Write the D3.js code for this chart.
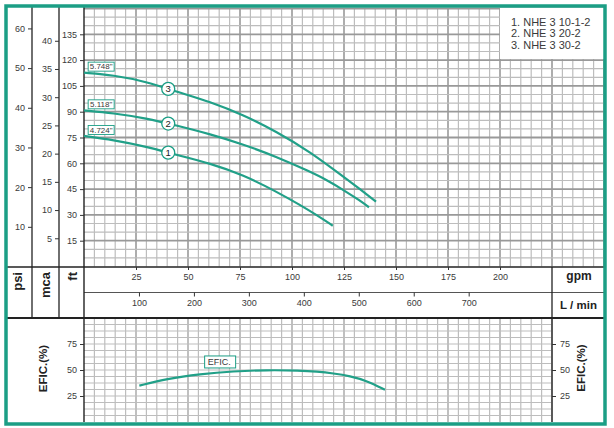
<!DOCTYPE html>
<html><head><meta charset="utf-8">
<script src="https://cdn.jsdelivr.net/npm/d3@7"></script>
<style>body{margin:0;background:#fff}svg{display:block;font-family:"Liberation Sans",Arial,sans-serif}</style>
</head><body><svg id="c" width="614" height="428"></svg>
<script>
// ---- data ----
const models = ["1. NHE 3 10-1-2", "2. NHE 3 20-2", "3. NHE 3 30-2"];
const impellers = ['4.724"', '5.118"', '5.748"'];
const markerNums = ["1", "2", "3"];
const flow1 = [0, 14, 30, 44.6, 60.6, 76.6, 92.6, 103.8, 111.9, 119.6];
const head1 = [75.9, 73.6, 69.7, 64.8, 60.0, 53.2, 43.5, 35.8, 29.9, 23.7];
const flow2 = [0, 14, 30, 44.6, 60.6, 76.6, 92.6, 108.7, 116.7, 124.7, 132.7, 137];
const head2 = [90.8, 89.2, 86.2, 81.9, 77.0, 71.0, 63.8, 55.1, 50.3, 44.5, 38.3, 34.4];
const flow3 = [0, 14, 30, 44.6, 60.6, 76.6, 92.6, 108.7, 124.7, 132.7, 140.4];
const head3 = [112.7, 111.3, 107.5, 101.6, 95.8, 88.1, 78.4, 66.7, 52.2, 44.9, 37.7];
const effFlow = [26.6, 39.8, 55.8, 71.8, 87.8, 103.8, 111.9, 119.9, 127.9, 135.9, 144.7];
const effVal = [35, 41.5, 46.0, 48.8, 50, 49.5, 48.5, 46.8, 44.2, 39.7, 31];
const markerFlow = 40.5;
const gpmTicks = [25, 50, 75, 100, 125, 150, 175, 200];
const lminTicks = [100, 200, 300, 400, 500, 600, 700];
const ftTicks = [15, 30, 45, 60, 75, 90, 105, 120, 135];
const mcaTicks = [5, 10, 15, 20, 25, 30, 35, 40];
const psiTicks = [10, 20, 30, 40, 50, 60];
const effTicks = [25, 50, 75];

// ---- drawing ----
const teal = "#1b9e85", curveCol = "#21a088", dark = "#222", txt = "#3a3a3a";
const svg = d3.select("#c");
const x = d3.scaleLinear().domain([0, 250]).range([84, 604]);
const xL = d3.scaleLinear().domain([0, 250 * 3.785]).range([84, 604]);
const y = d3.scaleLinear().domain([0, 150]).range([266.5, 8.5]);
const yM = d3.scaleLinear().domain([0, 150 / 3.281]).range([266.5, 8.5]);
const yP = d3.scaleLinear().domain([0, 150 / 2.307]).range([266.5, 8.5]);
const yE = d3.scaleLinear().domain([0, 100]).range([422, 318]);

svg.append("rect").attr("width", 614).attr("height", 428).attr("fill", "#fff");

// grid (top)
const gt = svg.append("g");
gt.selectAll("line.v").data(d3.range(5, 251, 5)).join("line")
  .attr("x1", d => x(d)).attr("x2", d => x(d)).attr("y1", 8).attr("y2", 266.5)
  .attr("stroke", d => d % 25 === 0 ? "#999" : "#bdbdbd")
  .attr("stroke-width", d => d % 25 === 0 ? 1.6 : 1.2);
gt.selectAll("line.h").data(d3.range(5, 151, 5)).join("line")
  .attr("x1", 84).attr("x2", 604).attr("y1", d => y(d)).attr("y2", d => y(d))
  .attr("stroke", d => d % 15 === 0 ? "#999" : "#bdbdbd")
  .attr("stroke-width", d => d % 15 === 0 ? 1.8 : 1.2);

// grid (efficiency)
const ge = svg.append("g");
ge.selectAll("line.v").data(d3.range(5, 226, 5)).join("line")
  .attr("x1", d => x(d)).attr("x2", d => x(d)).attr("y1", 318).attr("y2", 422)
  .attr("stroke", d => d % 25 === 0 ? "#a5a5a5" : "#bdbdbd")
  .attr("stroke-width", d => d % 25 === 0 ? 1.4 : 1.2);
ge.selectAll("line.h").data(d3.range(6.25, 100, 6.25)).join("line")
  .attr("x1", 84).attr("x2", 552).attr("y1", d => yE(d)).attr("y2", d => yE(d))
  .attr("stroke", "#bdbdbd").attr("stroke-width", 1.2);

// legend box
svg.append("rect").attr("x", 500).attr("y", 8).attr("width", 104).attr("height", 51).attr("fill", "#fff");
svg.selectAll("text.leg").data(models).join("text")
  .attr("x", 511).attr("y", (d, i) => 26 + i * 11.3)
  .attr("font-size", 11).attr("fill", txt).text(d => d);

// structure lines
const lines = [
  [6, 267, 605, 267, dark, 1.6], [6, 318, 605, 318, dark, 1.8],
  [84, 292.5, 605, 292.5, "#555", 1],
  [32, 6, 32, 318, dark, 1.3], [59, 6, 59, 318, dark, 1.3],
  [84, 6, 84, 422, dark, 1.4], [552, 267, 552, 422, dark, 1.3]
];
svg.selectAll("line.s").data(lines).join("line")
  .attr("x1", d => d[0]).attr("y1", d => d[1]).attr("x2", d => d[2]).attr("y2", d => d[3])
  .attr("stroke", d => d[4]).attr("stroke-width", d => d[5]);

function styleAxis(g) {
  g.select(".domain").remove();
  g.selectAll(".tick line").attr("stroke", "#333").attr("stroke-width", 1);
  g.selectAll(".tick text").attr("fill", txt).attr("font-size", 9)
    .attr("font-family", '"Liberation Sans",Arial,sans-serif');
}
svg.append("g").attr("transform", "translate(32,0)")
  .call(d3.axisLeft(yP).tickValues(psiTicks).tickSize(4).tickPadding(3)).call(styleAxis);
svg.append("g").attr("transform", "translate(59,0)")
  .call(d3.axisLeft(yM).tickValues(mcaTicks).tickSize(4).tickPadding(3)).call(styleAxis);
svg.append("g").attr("transform", "translate(84,0)")
  .call(d3.axisLeft(y).tickValues(ftTicks).tickSize(4).tickPadding(3)).call(styleAxis);
svg.append("g").attr("transform", "translate(0,267)")
  .call(d3.axisBottom(x).tickValues(gpmTicks).tickSize(3).tickPadding(4)).call(styleAxis);
svg.append("g").attr("transform", "translate(0,292.5)")
  .call(d3.axisBottom(xL).tickValues(lminTicks).tickSize(4).tickPadding(3)).call(styleAxis);
svg.append("g").attr("transform", "translate(84,0)")
  .call(d3.axisLeft(yE).tickValues(effTicks).tickSize(4).tickPadding(3)).call(styleAxis);
svg.append("g").attr("transform", "translate(552,0)")
  .call(d3.axisRight(yE).tickValues(effTicks).tickSize(4).tickPadding(4)).call(styleAxis);

// axis titles
function rotLabel(tx, ty, anchor, size, t) {
  svg.append("text").attr("transform", `translate(${tx},${ty}) rotate(-90)`)
    .attr("text-anchor", anchor).attr("font-size", size).attr("font-weight", "bold")
    .attr("fill", "#222").text(t);
}
rotLabel(22, 272, "end", 13, "psi");
rotLabel(50, 272, "end", 13, "mca");
rotLabel(77, 272, "end", 13, "ft");
rotLabel(47, 368.5, "middle", 11.5, "EFIC.(%)");
rotLabel(585, 368, "middle", 11.5, "EFIC.(%)");
svg.append("text").attr("x", 579).attr("y", 279.5).attr("text-anchor", "middle")
  .attr("font-size", 12).attr("font-weight", "bold").attr("fill", "#222").text("gpm");
svg.append("text").attr("x", 578.5).attr("y", 309).attr("text-anchor", "middle")
  .attr("font-size", 11.5).attr("font-weight", "bold").attr("fill", "#222").text("L / min");

// curves
const series = [[flow1, head1], [flow2, head2], [flow3, head3]];
const line = d3.line().x(d => x(d[0])).y(d => y(d[1])).curve(d3.curveBasis);
function interp(xs, ys, v) {
  for (let i = 1; i < xs.length; i++) if (v <= xs[i]) {
    const t = (v - xs[i - 1]) / (xs[i] - xs[i - 1]); return ys[i - 1] + t * (ys[i] - ys[i - 1]);
  }
  return ys[ys.length - 1];
}
series.forEach(([fx, hy], i) => {
  svg.append("path").attr("d", line(fx.map((f, j) => [f, hy[j]])))
    .attr("fill", "none").attr("stroke", curveCol).attr("stroke-width", 2.2);
  const sy = y(hy[0]);
  svg.append("rect").attr("x", x(2)).attr("y", sy - 10.5).attr("width", 26).attr("height", 9)
    .attr("fill", "#fff").attr("stroke", teal).attr("stroke-width", 0.9);
  svg.append("text").attr("x", x(2) + 13).attr("y", sy - 3.2).attr("text-anchor", "middle")
    .attr("font-size", 8).attr("fill", txt).text(impellers[i]);
  const my = y(interp(fx, hy, markerFlow));
  svg.append("circle").attr("cx", x(markerFlow)).attr("cy", my).attr("r", 6.5)
    .attr("fill", "#fff").attr("stroke", teal).attr("stroke-width", 1.3);
  svg.append("text").attr("x", x(markerFlow)).attr("y", my + 3.4).attr("text-anchor", "middle")
    .attr("font-size", 9.5).attr("fill", "#222").text(markerNums[i]);
});

// efficiency curve
const effLine = d3.line().x(d => x(d[0])).y(d => yE(d[1])).curve(d3.curveBasis);
svg.append("path").attr("d", effLine(effFlow.map((f, j) => [f, effVal[j]])))
  .attr("fill", "none").attr("stroke", curveCol).attr("stroke-width", 2.2);
svg.append("rect").attr("x", x(58)).attr("y", yE(63.5)).attr("width", 31).attr("height", 12)
  .attr("fill", "#fff").attr("stroke", teal).attr("stroke-width", 1);
svg.append("text").attr("x", x(58) + 3).attr("y", yE(63.5) + 9.2)
  .attr("font-size", 9).attr("fill", txt).text("EFIC.");

// frame
svg.append("rect").attr("x", 6).attr("y", 6).attr("width", 599).attr("height", 418)
  .attr("fill", "none").attr("stroke", teal).attr("stroke-width", 3.5);
</script></body></html>
